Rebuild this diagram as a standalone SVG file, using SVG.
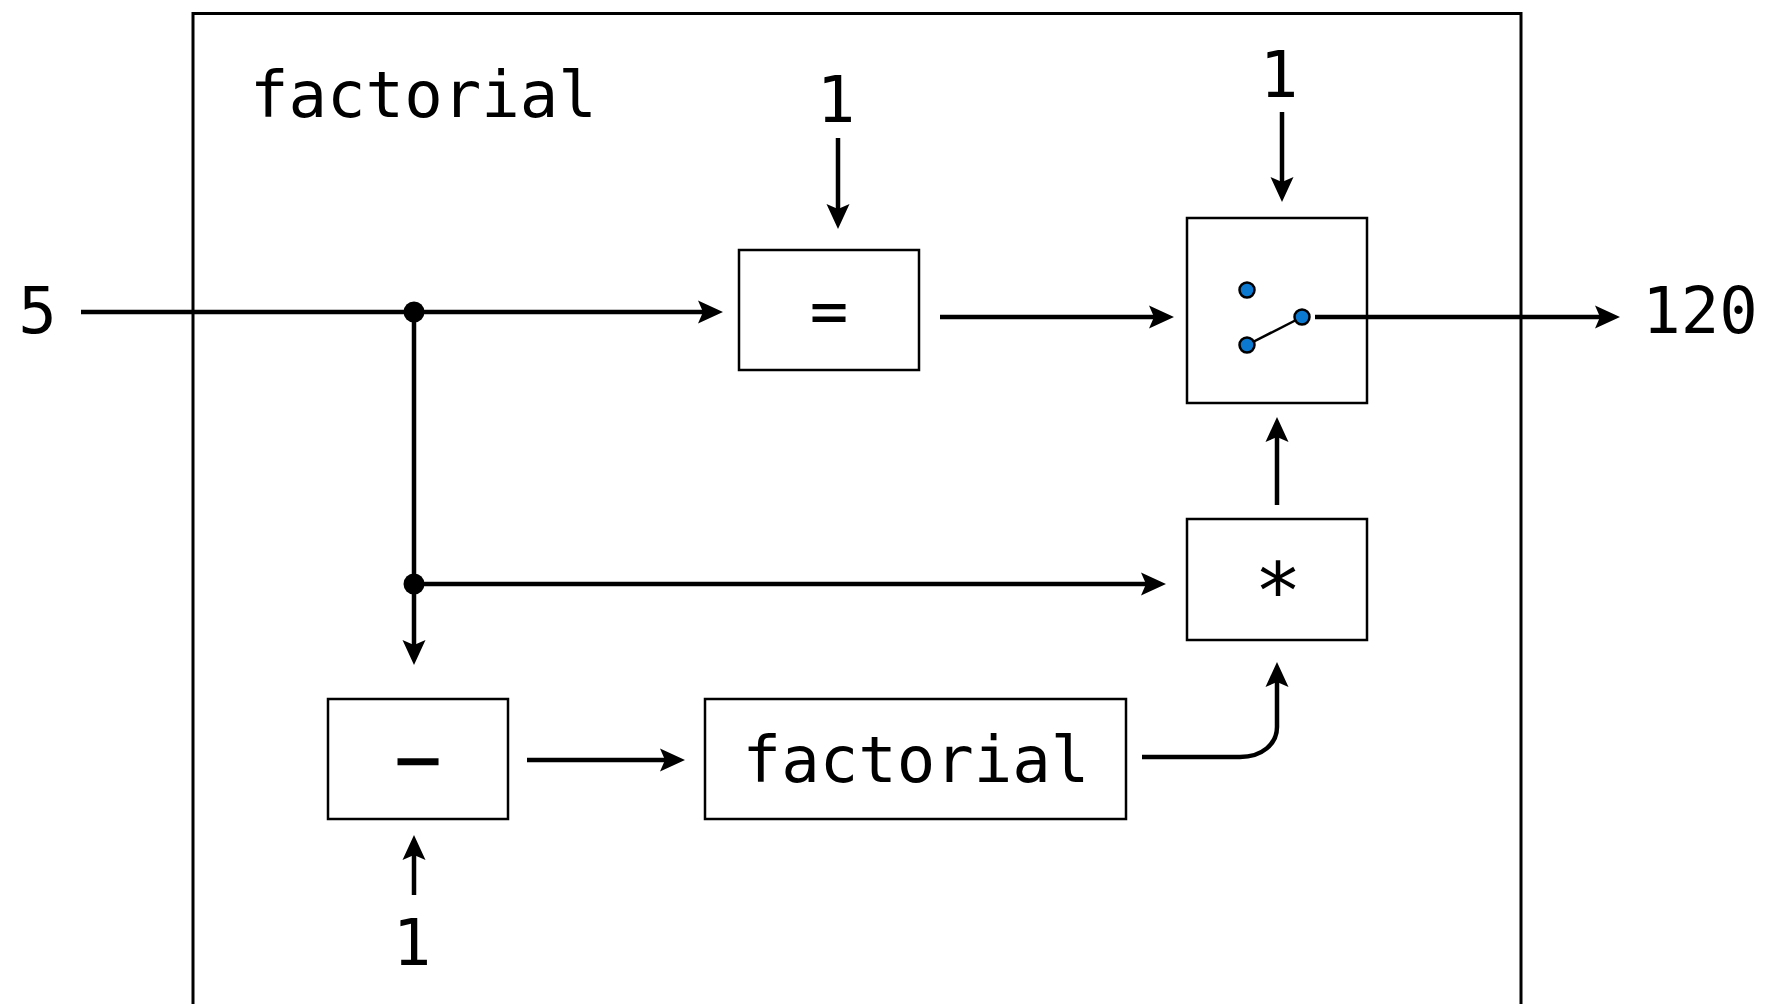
<svg xmlns="http://www.w3.org/2000/svg" width="1768" height="1004" viewBox="0 0 1768 1004">
  <style>
    .t { font-family: "DejaVu Sans Mono", "Liberation Mono", monospace; font-size: 64px; fill: #000; }
    .box { fill: #fff; stroke: #000; stroke-width: 2.5; }
    .wire { fill: none; stroke: #000; stroke-width: 4.5; }
    .dot { fill: #0b79d0; stroke: #000; stroke-width: 2.5; }
  </style>
  <defs>
    <marker id="arr" viewBox="-20 -12 30 24" markerWidth="30" markerHeight="24" refX="0" refY="0" orient="auto" markerUnits="userSpaceOnUse">
      <path d="M8,0 L-17,-11.5 L-12,0 L-17,11.5 Z" fill="#000"/>
    </marker>
  </defs>
  <rect width="1768" height="1004" fill="#fff"/>

  <g id="frame">
    <rect x="193" y="13.5" width="1328" height="1100" fill="none" stroke="#000" stroke-width="3"/>
    <text class="t" x="250" y="117">factorial</text>
  </g>

  <g id="in5"><text class="t" x="37.5" y="333" text-anchor="middle">5</text></g>
  <g id="one-eq"><text class="t" x="836" y="122" text-anchor="middle">1</text></g>
  <g id="one-if"><text class="t" x="1279" y="97" text-anchor="middle">1</text></g>
  <g id="one-sub"><text class="t" x="412" y="965" text-anchor="middle">1</text></g>
  <g id="out120"><text class="t" x="1700" y="333" text-anchor="middle">120</text></g>

  <g id="eq">
    <rect class="box" x="739" y="250" width="180" height="120"/>
    <text class="t" x="829" y="333" text-anchor="middle">=</text>
  </g>

  <g id="switch">
    <rect class="box" x="1187" y="218" width="180" height="185"/>
  </g>

  <g id="mul">
    <rect class="box" x="1187" y="519" width="180" height="121"/>
    <text class="t" x="1278" y="618" text-anchor="middle" style="font-size:79px">*</text>
  </g>

  <g id="sub">
    <rect class="box" x="328" y="699" width="180" height="120"/>
    <text class="t" x="418" y="779" text-anchor="middle" stroke="#000" stroke-width="2.5">–</text>
  </g>

  <g id="fact">
    <rect class="box" x="705" y="699" width="421" height="120"/>
    <text class="t" x="916" y="782" text-anchor="middle">factorial</text>
  </g>

  <g id="connectors">
    <path class="wire" d="M81,312 H715" marker-end="url(#arr)"/>
    <path class="wire" d="M414,312 V657" marker-end="url(#arr)"/>
    <path class="wire" d="M414,584 H1158" marker-end="url(#arr)"/>
    <path class="wire" d="M838,138 V221" marker-end="url(#arr)"/>
    <path class="wire" d="M940,317 H1166" marker-end="url(#arr)"/>
    <path class="wire" d="M1282,112 V194" marker-end="url(#arr)"/>
    <path class="wire" d="M1315,317 H1612" marker-end="url(#arr)"/>
    <path class="wire" d="M1277,505 V425" marker-end="url(#arr)"/>
    <path class="wire" d="M414,895 V843" marker-end="url(#arr)"/>
    <path class="wire" d="M527,760 H677" marker-end="url(#arr)"/>
    <path class="wire" d="M1142,757 H1240 C1262,757 1277,744 1277,727 V670" marker-end="url(#arr)"/>
    <circle cx="414" cy="312" r="10.5" fill="#000"/>
    <circle cx="414" cy="584" r="10.5" fill="#000"/>
  </g>

  <g id="switch-contacts">
    <line x1="1247" y1="345" x2="1302" y2="317" stroke="#000" stroke-width="2.5"/>
    <circle class="dot" cx="1247" cy="290" r="7.5"/>
    <circle class="dot" cx="1247" cy="345" r="7.5"/>
    <circle class="dot" cx="1302" cy="317" r="7.5"/>
  </g>
</svg>
